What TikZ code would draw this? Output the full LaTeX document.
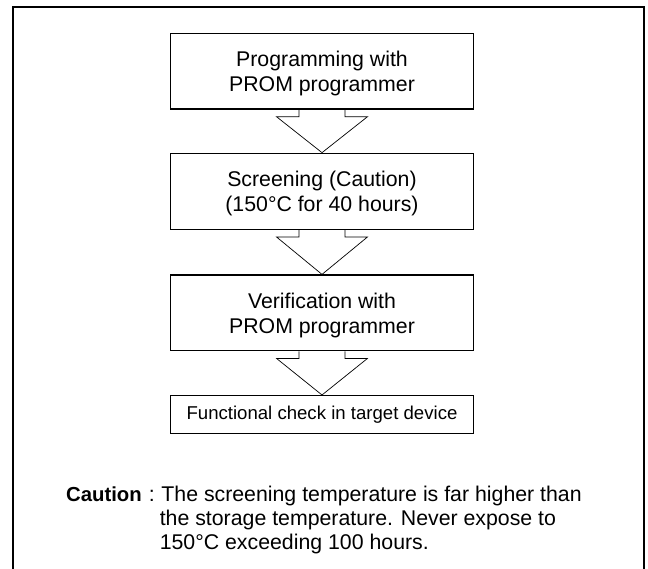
\documentclass[tikz,border=0pt]{standalone}
\usepackage{fontspec}
\setmainfont{Liberation Sans}
\usetikzlibrary{calc}
\tikzset{
  stepbox/.style={draw, line width=1.3pt, minimum width=302.6pt, inner sep=0pt, align=center, font=\fontsize{21.3}{25}\selectfont},
  arrowline/.style={draw, line width=0.7pt, line join=miter},
  frameline/.style={line width=2pt},
  cautiontext/.style={anchor=base west, inner sep=0pt, font=\fontsize{21.3}{24}\selectfont}
}
\newcommand\hollowarrow[2]{%
  \draw[arrowline] ($(#1.south)+(-23,0)$) -- ++(0,7) -- ++(-22.5,0) -- (#2.north)
    -- ($(#1.south)+(45.5,7)$) -- ++(-22.5,0) -- ++(0,-7);}
\begin{document}
\begin{tikzpicture}[x=1pt,y=-1pt]
\useasboundingbox (0,0) rectangle (648,569);
\fill[white] (0,0) rectangle (648,569);
\draw[frameline] (13,575) -- (13,7.3) -- (644,7.3) -- (644,575);
\node[stepbox, minimum height=75.7pt] (b1) at (322,71.2) {\rule{0pt}{20pt}Programming with\\PROM programmer};
\node[stepbox, minimum height=76pt] (b2) at (322,191.3) {\rule{0pt}{20pt}Screening (Caution)\\(150°C for 40 hours)};
\node[stepbox, minimum height=75.7pt] (b3) at (322,312.9) {\rule{0pt}{20pt}Verification with\\PROM programmer};
\node[stepbox, minimum height=37.9pt, font=\fontsize{18.6}{22}\selectfont] (b4) at (322,414.6) {Functional check in target device};
\hollowarrow{b1}{b2}
\hollowarrow{b2}{b3}
\hollowarrow{b3}{b4}
\node[cautiontext] (cl) at (66,501.7) {{\fontsize{20.3}{24}\selectfont\textbf{Caution}}\hspace{7pt}:};
\node[cautiontext] (c1) at (161.2,501.7) {The screening temperature is far higher than};
\node[cautiontext] (c2) at (159.6,525.6) {the storage temperature. Never expose to};
\node[cautiontext] (c3) at (159.6,549.5) {150°C exceeding 100 hours.};
\end{tikzpicture}
\end{document}
